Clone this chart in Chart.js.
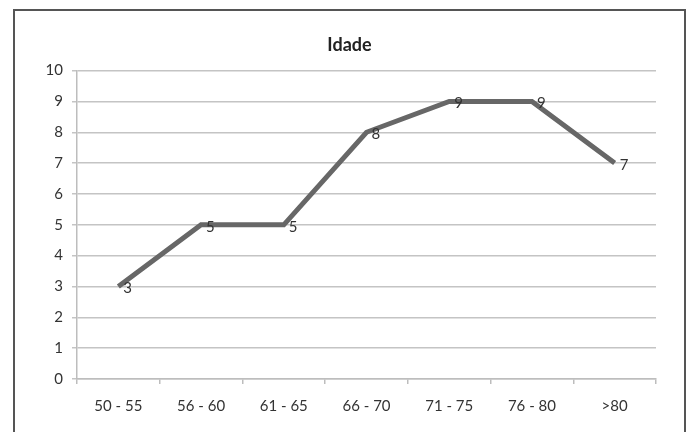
<!DOCTYPE html>
<html>
<head>
<meta charset="utf-8">
<script src="https://cdn.jsdelivr.net/npm/chart.js@4/dist/chart.umd.min.js"></script>
<style>
  html, body { margin: 0; padding: 0; background: #fff; }
  #wrap { width: 693px; height: 432px; position: relative; }
  canvas { display: block; }
</style>
</head>
<body>
<div id="wrap"><canvas id="c" width="693" height="432"></canvas></div>
<script>
// Age groups and number of people in each
const categories = ['50 - 55', '56 - 60', '61 - 65', '66 - 70', '71 - 75', '76 - 80', '>80'];
const counts = [3, 5, 5, 8, 9, 9, 7];
const yTicks = [0, 1, 2, 3, 4, 5, 6, 7, 8, 9, 10];

const FONT = 'Lato, "Open Sans", sans-serif';
const TEXT = '#333333';

// Border framing the whole chart (open at the bottom edge of the window)
const framePlugin = {
  id: 'frame',
  beforeDraw(chart) {
    const ctx = chart.ctx;
    ctx.save();
    ctx.strokeStyle = '#555';
    ctx.lineWidth = 2;
    ctx.strokeRect(14, 10, 671, 440);
    ctx.restore();
  }
};

// Value labels placed to the right of each point
const valueLabels = {
  id: 'valueLabels',
  afterDatasetsDraw(chart) {
    const ctx = chart.ctx;
    ctx.save();
    ctx.font = '15px ' + FONT;
    ctx.fillStyle = TEXT;
    ctx.textAlign = 'left';
    ctx.textBaseline = 'middle';
    chart.getDatasetMeta(0).data.forEach((pt, i) => {
      ctx.fillText(String(counts[i]), pt.x + 5, pt.y + 2);
    });
    ctx.restore();
  }
};

new Chart(document.getElementById('c'), {
  type: 'line',
  data: {
    labels: categories,
    datasets: [{
      label: 'Idade',
      data: counts,
      borderColor: '#676767',
      borderWidth: 5,
      borderCapStyle: 'butt',
      borderJoinStyle: 'miter',
      tension: 0,
      pointRadius: 0,
      pointHoverRadius: 0,
      fill: false
    }]
  },
  options: {
    responsive: false,
    animation: false,
    events: [],
    layout: { padding: { left: 43, right: 37, top: 0, bottom: 0 } },
    plugins: {
      legend: { display: false },
      tooltip: { enabled: false },
      title: {
        display: true,
        text: 'Idade',
        color: '#222',
        font: { family: FONT, size: 18, weight: 'bold' },
        padding: { top: 34, bottom: 15 }
      }
    },
    scales: {
      x: {
        type: 'category',
        offset: true,
        afterFit(scale) { scale.height = 53; },
        grid: {
          offset: true,
          drawOnChartArea: false,
          drawTicks: true,
          tickLength: 5,
          color: '#bdbdbd',
          lineWidth: 1.5
        },
        border: { display: true, color: '#bdbdbd', width: 1.5 },
        ticks: {
          color: TEXT,
          padding: 13,
          maxRotation: 0,
          font: { family: FONT, size: 15 }
        }
      },
      y: {
        min: 0,
        max: 10,
        afterFit(scale) { scale.width = 34; },
        afterBuildTicks(scale) { scale.ticks = yTicks.map(v => ({ value: v })); },
        grid: {
          color: '#c4c4c4',
          lineWidth: 1.5,
          drawTicks: true,
          tickLength: 5
        },
        border: { display: true, color: '#bdbdbd', width: 1.5 },
        ticks: {
          color: TEXT,
          padding: 9,
          font: { family: FONT, size: 15 }
        }
      }
    }
  },
  plugins: [framePlugin, valueLabels]
});
</script>
</body>
</html>
